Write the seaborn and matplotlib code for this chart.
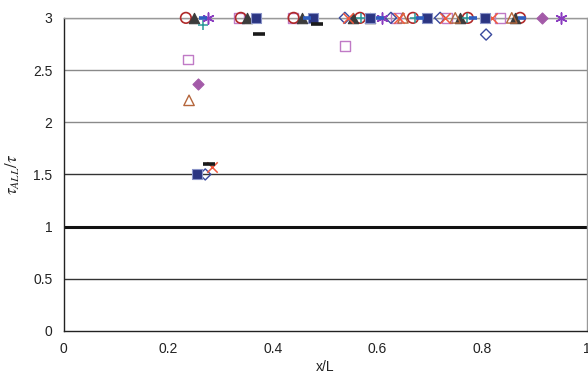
import matplotlib
matplotlib.use("Agg")
import matplotlib.pyplot as plt
import seaborn as sns
import numpy as np

sns.set_theme(style="white")
plt.rcParams['font.family'] = ['Liberation Sans', 'DejaVu Sans']
plt.rcParams['mathtext.fontset'] = 'stix'

x_ticks = [0, 0.2, 0.4, 0.6, 0.8, 1]
x_tick_labels = ["0", "0.2", "0.4", "0.6", "0.8", "1"]
y_ticks = [0, 0.5, 1, 1.5, 2, 2.5, 3]
y_tick_labels = ["0", "0.5", "1", "1.5", "2", "2.5", "3"]

# series: x/L positions and tau_ALL/tau values
circ_x = [0.234, 0.339, 0.440, 0.567, 0.668, 0.773, 0.873]
circ_y = [3, 3, 3, 3, 3, 3, 3]
tri_f_x = [0.250, 0.351, 0.456, 0.553, 0.586, 0.758, 0.863]
tri_f_y = [3, 3, 3, 3, 3, 3, 3]
star_x = [0.276, 0.609, 0.951]
star_y = [3, 3, 3]
plus_x = [0.267, 0.569, 0.672, 0.771]
plus_y = [2.93, 3, 3, 3]
sq_f_x = [0.255, 0.368, 0.477, 0.586, 0.695, 0.806]
sq_f_y = [1.5, 3, 3, 3, 3, 3]
sq_o_x = [0.238, 0.336, 0.439, 0.538, 0.636, 0.733, 0.835]
sq_o_y = [2.60, 3, 3, 2.73, 3, 3, 3]
dia_o_x = [0.271, 0.538, 0.626, 0.720, 0.808]
dia_o_y = [1.50, 3, 3, 3, 2.84]
cross_x = [0.284, 0.544, 0.641, 0.729, 0.819]
cross_y = [1.57, 3, 3, 3, 3]
tri_o_x = [0.240, 0.649, 0.749, 0.857]
tri_o_y = [2.21, 3, 3, 3]
dia_f_x = [0.257, 0.915]
dia_f_y = [2.37, 3]
dash_k_x = [0.278, 0.374, 0.485]
dash_k_y = [1.60, 2.85, 2.94]
dash_b_x = [0.267, 0.466, 0.605, 0.681, 0.783, 0.877]
dash_b_y = [3, 3, 3, 3, 3, 3]

fig = plt.figure(figsize=(5.88, 3.80), dpi=100)
ax = fig.add_axes([0.108, 0.129, 0.8895, 0.824])

# grid lines
for yv in y_ticks[1:]:
    if yv == 1:
        continue
    col = '#333333' if yv in (0.5, 1.5) else '#8a8a8a'
    ax.axhline(yv, color=col, lw=1.0, zorder=1)
ax.axhline(1, color='#111111', lw=2.2, zorder=1)

S = 52
common = dict(ax=ax, clip_on=False, zorder=5, legend=False)

def open_marker(xs, ys, marker, color, lw=1.0, s=S):
    sns.scatterplot(x=xs, y=ys, marker=marker, color=color, facecolor='none',
                    edgecolor=color, linewidth=lw, s=s, **common)

def filled_marker(xs, ys, marker, color, edge, s=S):
    sns.scatterplot(x=xs, y=ys, marker=marker, color=color, edgecolor=edge,
                    linewidth=0.8, s=s, **common)

def line_marker(xs, ys, marker, color, lw, s=S):
    sns.scatterplot(x=xs, y=ys, marker=marker, color=color, edgecolor=color,
                    linewidth=lw, s=s, **common)

open_marker(sq_o_x, sq_o_y, 's', '#c07ac6', s=48)
open_marker(circ_x, circ_y, 'o', '#b02a2a', lw=1.2, s=58)
filled_marker(tri_f_x, tri_f_y, '^', '#3c3c3c', '#3c3c3c', s=56)
open_marker(tri_o_x, tri_o_y, '^', '#b5663c', s=56)
open_marker(dia_o_x, dia_o_y, 'D', '#3a4a9e', s=32)
line_marker(cross_x, cross_y, 'x', '#f0583e', 1.1, s=56)
line_marker(plus_x, plus_y, '+', '#2a9a98', 1.1, s=56)
line_marker(star_x, star_y, (6, 2, 0), '#8a3cc0', 1.1, s=64)
filled_marker(sq_f_x, sq_f_y, 's', '#2b3582', '#8a94c8', s=54)
filled_marker(dia_f_x, dia_f_y, 'D', '#a35aa8', '#a35aa8', s=32)
line_marker(dash_b_x, dash_b_y, '_', '#2f5fc0', 2.6, s=40)
line_marker(dash_k_x, dash_k_y, '_', '#1a1a1a', 2.6, s=64)

ax.set_xlim(0, 1)
ax.set_ylim(0, 3)
ax.set_xticks(x_ticks)
ax.set_xticklabels(x_tick_labels)
ax.set_yticks(y_ticks)
ax.set_yticklabels(y_tick_labels)
ax.tick_params(axis='both', direction='in', length=3, width=0.8, colors='#222222',
               labelsize=10, pad=8)
ax.tick_params(axis='y', length=0, pad=8)
ax.set_xlabel('x/L', fontsize=10, color='#222222', labelpad=3)
ax.set_ylabel(r'$\tau_{ALL}/\tau$', fontsize=12, color='#222222', labelpad=8)

for side in ('left', 'bottom'):
    ax.spines[side].set_color('#222222')
    ax.spines[side].set_linewidth(1.0)
for side in ('top', 'right'):
    ax.spines[side].set_color('#999999')
    ax.spines[side].set_linewidth(1.0)
ax.grid(False)

fig.savefig('out.png', dpi=100)
